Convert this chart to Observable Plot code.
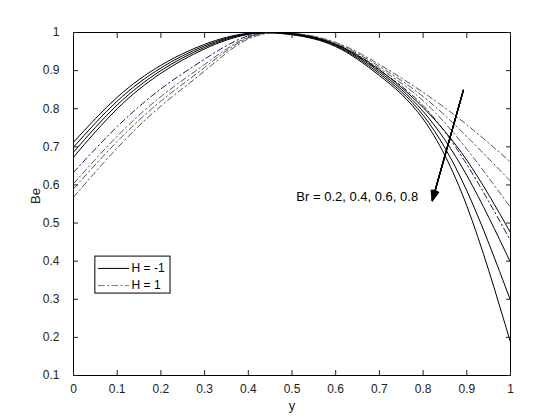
<!DOCTYPE html>
<html><head><meta charset="utf-8">
<script src="https://cdn.jsdelivr.net/npm/d3@7"></script>
<script src="https://cdn.jsdelivr.net/npm/@observablehq/plot@0.6"></script>
<style>body{margin:0;background:#fff} #chart{width:560px;height:420px}</style>
</head><body><div id="chart"></div>
<script>
// positions across the channel
const yPos = [0, 0.1, 0.2, 0.3, 0.4, 0.5, 0.6, 0.7, 0.8, 0.9, 1.0];
const brValues = [0.2, 0.4, 0.6, 0.8];
// Bejan number, H = -1 (solid), one row per Br
const beHminus1 = [
  [0.673, 0.800, 0.893, 0.957, 0.995, 0.997, 0.969, 0.902, 0.803, 0.665, 0.475],
  [0.686, 0.810, 0.900, 0.961, 0.996, 0.996, 0.967, 0.897, 0.793, 0.625, 0.397],
  [0.699, 0.820, 0.907, 0.965, 0.997, 0.995, 0.965, 0.892, 0.783, 0.585, 0.297],
  [0.712, 0.830, 0.914, 0.969, 0.998, 0.994, 0.963, 0.887, 0.773, 0.545, 0.187]
];
// Bejan number, H = 1 (dash-dot), one row per Br
const beHplus1 = [
  [0.568, 0.697, 0.807, 0.899, 0.983, 0.998, 0.974, 0.916, 0.843, 0.758, 0.660],
  [0.590, 0.714, 0.820, 0.908, 0.986, 0.998, 0.972, 0.911, 0.832, 0.727, 0.610],
  [0.603, 0.728, 0.832, 0.916, 0.988, 0.998, 0.970, 0.906, 0.821, 0.694, 0.541],
  [0.633, 0.753, 0.852, 0.930, 0.991, 0.997, 0.968, 0.901, 0.808, 0.654, 0.454]
];
const hColors = ["#555555", "#555555", "#555555", "#1a1a6e"];
const xTicks = [0, 0.1, 0.2, 0.3, 0.4, 0.5, 0.6, 0.7, 0.8, 0.9, 1];
const yTicks = [0.1, 0.2, 0.3, 0.4, 0.5, 0.6, 0.7, 0.8, 0.9, 1];
const arrowData = [{x1: 0.892, y1: 0.848, x2: 0.821, y2: 0.559}];
const annotationText = [{x: 0.51, y: 0.570, label: "Br = 0.2, 0.4, 0.6, 0.8"}];
const legendBox = [{x1: 0.050, x2: 0.222, y1: 0.315, y2: 0.412}];
const legendLabels = ["H = -1", "H = 1"];
const legendRows = [0.381, 0.336];
const legendLineX = [0.057, 0.126];
const legendTextX = 0.133;

const rows = [];
function addSeries(table, H, dashed) {
  table.forEach((vals, i) => {
    vals.forEach((v, j) => rows.push({y: yPos[j], be: v, key: `H${H}-Br${brValues[i]}`, H, br: brValues[i], dashed,
      color: dashed ? hColors[i] : "#000000"}));
  });
}
addSeries(beHplus1, 1, true);
addSeries(beHminus1, -1, false);

const fmt = d => String(+(+d).toFixed(1));
const font = "'Liberation Sans', Arial, sans-serif";
const dashPattern = "6,3,1.5,3";

const legendLines = [];
legendLabels.forEach((lab, i) => legendLineX.forEach(x => legendLines.push({x, y: legendRows[i], k: i})));
const legendTexts = legendLabels.map((lab, i) => ({x: legendTextX, y: legendRows[i], label: lab}));

const headAngles = [44, 36, 28, 20, 12, 5];

const chart = Plot.plot({
  width: 560, height: 420,
  marginLeft: 73, marginRight: 50, marginTop: 32, marginBottom: 45,
  x: {domain: [0, 1]},
  y: {domain: [0.1, 1]},
  style: {fontFamily: font, fontSize: "12px", background: "white", color: "#222"},
  marks: [
    Plot.line(rows.filter(d => d.dashed), {x: "y", y: "be", z: "key", stroke: "color", strokeWidth: 1,
      strokeDasharray: dashPattern, curve: "natural", clip: true}),
    Plot.line(rows.filter(d => !d.dashed), {x: "y", y: "be", z: "key", stroke: "color", strokeWidth: 1,
      curve: "natural", clip: true}),
    ...headAngles.map(a => Plot.arrow(arrowData, {x1: "x1", y1: "y1", x2: "x2", y2: "y2",
      headAngle: a, headLength: 13, stroke: "black", strokeWidth: 1.2})),
    Plot.text(annotationText, {x: "x", y: "y", text: "label", textAnchor: "start", fontSize: 13, fill: "black"}),
    Plot.rect(legendBox, {x1: "x1", x2: "x2", y1: "y1", y2: "y2", fill: "white", stroke: "black", strokeWidth: 1}),
    Plot.line(legendLines.filter(d => d.k === 0), {x: "x", y: "y", stroke: "black", strokeWidth: 1}),
    Plot.line(legendLines.filter(d => d.k === 1), {x: "x", y: "y", stroke: "#777", strokeWidth: 1, strokeDasharray: dashPattern}),
    Plot.text(legendTexts, {x: "x", y: "y", text: "label", textAnchor: "start", fontSize: 12, fill: "black"}),
    Plot.frame({stroke: "black", strokeWidth: 1}),
    // inward ticks on all four sides
    Plot.axisX({ticks: xTicks, anchor: "bottom", tickSize: 5, dy: -5, tickFormat: () => "", label: null, stroke: "#222"}),
    Plot.axisX({ticks: xTicks, anchor: "top", tickSize: 5, dy: 5, tickFormat: () => "", label: null, stroke: "#222"}),
    Plot.axisY({ticks: yTicks, anchor: "left", tickSize: 5, dx: 5, tickFormat: () => "", label: null, stroke: "#222"}),
    Plot.axisY({ticks: yTicks, anchor: "right", tickSize: 5, dx: -5, tickFormat: () => "", label: null, stroke: "#222"}),
    // tick labels
    Plot.axisX({ticks: xTicks, anchor: "bottom", tickSize: 0, tickPadding: 9, tickFormat: fmt, label: null}),
    Plot.axisY({ticks: yTicks, anchor: "left", tickSize: 0, tickPadding: 14, tickFormat: fmt, label: null}),
    // axis titles
    Plot.text(["y"], {frameAnchor: "bottom", dy: 34, text: d => d, fontSize: 13, fill: "#222"}),
    Plot.text(["Be"], {frameAnchor: "left", dx: -38, rotate: -90, text: d => d, fontSize: 13, fill: "#222"})
  ]
});
document.getElementById("chart").appendChild(chart);
</script>
</body></html>
